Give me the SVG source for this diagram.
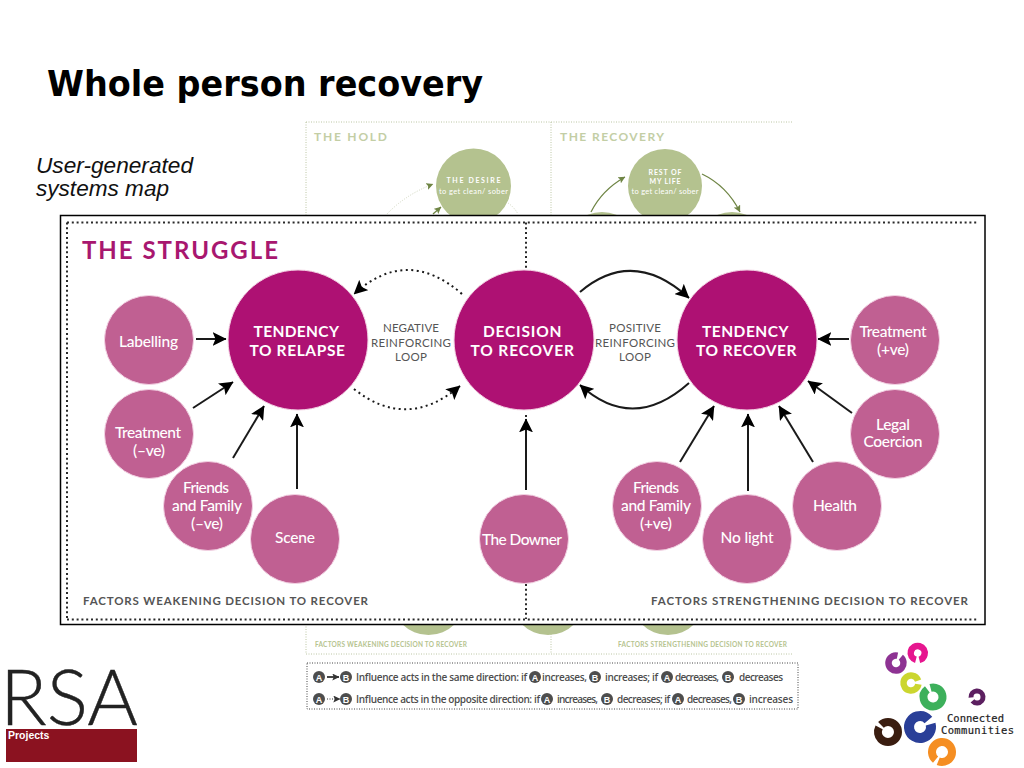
<svg xmlns="http://www.w3.org/2000/svg" width="1024" height="768" viewBox="0 0 1024 768">
<style>
text{font-family:"Lato","Liberation Sans",sans-serif}
.big{fill:#ae1173;stroke:#f3d3e4;stroke-width:1}
.small{fill:#c06092;stroke:#f3d3e4;stroke-width:1}
.green{fill:#b4c28f}
.bt{fill:#fff;font-weight:700;font-size:15.5px;text-anchor:middle;letter-spacing:1.5px}
.st{fill:#fff;font-size:15.5px;text-anchor:middle;font-weight:500}
.lt{fill:#555;font-size:11.5px;text-anchor:middle}
.ft{fill:#555;font-size:11.5px;font-weight:700}
.gh{fill:#c3cea5;font-size:12px;font-weight:700}
.gf{fill:#b6c48f;font-size:6.5px;font-weight:700}
.gw{fill:#fff;font-size:7px;font-weight:700;text-anchor:middle}
.gs{fill:#fff;font-size:7.5px;text-anchor:middle}
.lg{fill:#4d4d4d;font-size:10px;font-family:"Open Sans","Noto Sans",sans-serif;font-weight:600}
.lc{fill:#4d4d4d}
.ll{fill:#fff;font-size:9px;font-weight:700;text-anchor:middle;font-family:"Liberation Sans",sans-serif}
.ar{fill:none;stroke:#1a1a1a;stroke-width:2;marker-end:url(#a)}
.dr{fill:none;stroke:#1a1a1a;stroke-width:2;stroke-dasharray:2 3.5;marker-end:url(#a)}
.gar{fill:none;stroke:#6f8545;stroke-width:1.3;marker-end:url(#g)}
.gdr{fill:none;stroke:#cfd6bd;stroke-width:1;stroke-dasharray:1 1.5}
.fd{fill:none;stroke:#2a2a2a;stroke-width:2;stroke-dasharray:2 2.8}
.gd{fill:none;stroke:#bcc6a4;stroke-width:1;stroke-dasharray:1 1.5}
.kd{fill:none;stroke:#444;stroke-width:1;stroke-dasharray:1 1.5}
</style>
<defs>
<marker id="a" viewBox="0 0 12 12" refX="11.5" refY="6" markerWidth="14" markerHeight="14" markerUnits="userSpaceOnUse" orient="auto"><path d="M0,0L12,6L0,12L2.5,6z" fill="#000"/></marker>
<marker id="g" viewBox="0 0 12 12" refX="11.5" refY="6" markerWidth="7" markerHeight="7" markerUnits="userSpaceOnUse" orient="auto"><path d="M0,0L12,6L0,12L2.5,6z" fill="#6f8545"/></marker>
<marker id="k" viewBox="0 0 12 12" refX="11.5" refY="6" markerWidth="7" markerHeight="7" markerUnits="userSpaceOnUse" orient="auto"><path d="M0,0L12,6L0,12L2.5,6z" fill="#333"/></marker>
</defs>
<rect width="1024" height="768" fill="#fff"/>
<text id="title" x="47" y="96" font-size="36" font-weight="700" fill="#000" style="font-family:'DejaVu Sans',sans-serif" textLength="436" lengthAdjust="spacingAndGlyphs">Whole person recovery</text>
<g id="subtitle" font-size="22" font-style="italic" fill="#111">
<text x="36" y="173" style="font-family:'Liberation Sans',sans-serif" textLength="157" lengthAdjust="spacingAndGlyphs">User-generated</text>
<text x="36" y="196" style="font-family:'Liberation Sans',sans-serif" textLength="133" lengthAdjust="spacingAndGlyphs">systems map</text>
</g>
<g id="behind">
<path class="gd" d="M306,122H792M306,122V216M551,122V216M306,624V654M551,624V654M306,654H792"/>
<text class="gh" x="314" y="141" textLength="73">THE HOLD</text>
<text class="gh" x="560" y="141" textLength="104">THE RECOVERY</text>
<circle class="green" cx="602" cy="249" r="37"/>
<circle class="green" cx="732" cy="249" r="37"/>
<circle class="green" cx="428.500" cy="598" r="37"/>
<circle class="green" cx="548" cy="598" r="37"/>
<circle class="green" cx="668" cy="598" r="37"/>
<text class="gf" x="315" y="647" textLength="152">FACTORS WEAKENING DECISION TO RECOVER</text>
<text class="gf" x="618" y="647" textLength="169">FACTORS STRENGTHENING DECISION TO RECOVER</text>
</g>
<g id="the-desire">
<circle class="green" cx="473.500" cy="186" r="37.500"/>
<text class="gw" x="473.500" y="183" textLength="54">THE DESIRE</text>
<text class="gs" x="473.500" y="194" textLength="69">to get clean/ sober</text>
</g>
<g id="rest-of-my-life">
<circle class="green" cx="665" cy="186" r="37"/>
<text class="gw" x="665" y="175" textLength="33">REST OF</text>
<text class="gw" x="665" y="184" textLength="31">MY LIFE</text>
<text class="gs" x="665" y="194" textLength="67">to get clean/ sober</text>
</g>
<g id="behind-connectors">
<path class="gdr" d="M387,214Q405,195 433,184" marker-end="url(#g)"/>
<path class="gar" d="M433,214L441,207"/>
<path class="gdr" d="M508,203Q514,207 518,214"/>
<path class="gar" d="M591,212Q602,190 625,177"/>
<path class="gar" d="M702,174Q727,186 740,212"/>
</g>
<g id="legend">
<rect class="kd" x="307" y="663" width="491" height="46"/>
<path d="M327,677H339" fill="none" stroke="#333" stroke-width="1.800" marker-end="url(#k)"/>
<path d="M327,699H340" fill="none" stroke="#333" stroke-width="1.200" stroke-dasharray="1 1.500" marker-end="url(#k)"/>
<g id="legend-row-1">
<circle class="lc" cx="319" cy="677" r="6"/><text class="ll" x="319" y="680.500">A</text>
<circle class="lc" cx="346" cy="677" r="6"/><text class="ll" x="346" y="680.500">B</text>
<text class="lg" x="356" y="680.500" textLength="171">Influence acts in the same direction: if</text>
<circle class="lc" cx="535" cy="677" r="6"/><text class="ll" x="535" y="680.500">A</text>
<text class="lg" x="542" y="680.500" textLength="45">increases,</text>
<circle class="lc" cx="595" cy="677" r="6"/><text class="ll" x="595" y="680.500">B</text>
<text class="lg" x="605" y="680.500" textLength="53">increases; if</text>
<circle class="lc" cx="667" cy="677" r="6"/><text class="ll" x="667" y="680.500">A</text>
<text class="lg" x="675" y="680.500" textLength="44">decreases,</text>
<circle class="lc" cx="728" cy="677" r="6"/><text class="ll" x="728" y="680.500">B</text>
<text class="lg" x="739" y="680.500" textLength="44">decreases</text>
</g>
<g id="legend-row-2">
<circle class="lc" cx="319" cy="699" r="6"/><text class="ll" x="319" y="702.500">A</text>
<circle class="lc" cx="346" cy="699" r="6"/><text class="ll" x="346" y="702.500">B</text>
<text class="lg" x="356" y="702.500" textLength="184">Influence acts in the opposite direction: if</text>
<circle class="lc" cx="547" cy="699" r="6"/><text class="ll" x="547" y="702.500">A</text>
<text class="lg" x="557" y="702.500" textLength="41">increases,</text>
<circle class="lc" cx="607" cy="699" r="6"/><text class="ll" x="607" y="702.500">B</text>
<text class="lg" x="617" y="702.500" textLength="53">decreases; if</text>
<circle class="lc" cx="678" cy="699" r="6"/><text class="ll" x="678" y="702.500">A</text>
<text class="lg" x="687" y="702.500" textLength="45">decreases,</text>
<circle class="lc" cx="739" cy="699" r="6"/><text class="ll" x="739" y="702.500">B</text>
<text class="lg" x="749" y="702.500" textLength="44">increases</text>
</g>
</g>
<g id="struggle-frame">
<rect x="60.500" y="215.500" width="924.500" height="409" fill="#fff" stroke="#000" stroke-width="1.500"/>
<path class="fd" d="M67,222.500H979M67,222.500V619M67,619.500H979M526,222.500V270M526,415V488M526,584V619"/>
</g>
<text id="struggle-title" x="82" y="259" font-size="24" font-weight="700" fill="#a8176f" textLength="196">THE STRUGGLE</text>
<g id="connectors">
<path class="ar" d="M196,339H226"/>
<path class="ar" d="M193,408L233,382"/>
<path class="ar" d="M233,458L264,406"/>
<path class="ar" d="M297,489V414"/>
<path class="ar" d="M526,490V419"/>
<path class="ar" d="M849,339H818"/>
<path class="ar" d="M852,413L808,381"/>
<path class="ar" d="M813,462L779,406"/>
<path class="ar" d="M748,491V414"/>
<path class="ar" d="M680,462L714,406"/>
<path class="ar" d="M580,292Q633,247 689,298"/>
<path class="ar" d="M689,383Q633,433 580,385"/>
<path class="dr" d="M462,294Q407,246 354,294"/>
<path class="dr" d="M354,389Q407,431 460,386"/>
</g>
<g id="tendency-to-relapse"><circle class="big" cx="298" cy="340" r="70"/>
<text class="bt" x="297" y="337" textLength="87">TENDENCY</text>
<text class="bt" x="298" y="356" textLength="97">TO RELAPSE</text></g>
<g id="decision-to-recover"><circle class="big" cx="524" cy="340" r="70"/>
<text class="bt" x="523" y="337" textLength="80">DECISION</text>
<text class="bt" x="523" y="356" textLength="105">TO RECOVER</text></g>
<g id="tendency-to-recover"><circle class="big" cx="747" cy="340" r="70"/>
<text class="bt" x="746" y="337" textLength="88">TENDENCY</text>
<text class="bt" x="747" y="356" textLength="102">TO RECOVER</text></g>
<g id="negative-loop-label">
<text class="lt" x="411" y="332" textLength="56">NEGATIVE</text>
<text class="lt" x="411" y="347" textLength="80">REINFORCING</text>
<text class="lt" x="411" y="361" textLength="32">LOOP</text></g>
<g id="positive-loop-label">
<text class="lt" x="635" y="332" textLength="52">POSITIVE</text>
<text class="lt" x="635" y="347" textLength="80">REINFORCING</text>
<text class="lt" x="635" y="361" textLength="32">LOOP</text></g>
<g id="labelling"><circle class="small" cx="149" cy="340" r="44.500"/>
<text class="st" x="148.500" y="347" textLength="59">Labelling</text></g>
<g id="treatment-neg"><circle class="small" cx="149" cy="434" r="44.500"/>
<text class="st" x="148" y="438" textLength="66">Treatment</text>
<text class="st" x="149" y="456" textLength="32">(–ve)</text></g>
<g id="friends-family-neg"><circle class="small" cx="208" cy="506" r="44.500"/>
<text class="st" x="206" y="493" textLength="46">Friends</text>
<text class="st" x="207" y="511" textLength="70">and Family</text>
<text class="st" x="207" y="529" textLength="32">(–ve)</text></g>
<g id="scene"><circle class="small" cx="295" cy="539" r="44.500"/>
<text class="st" x="295" y="543" textLength="40">Scene</text></g>
<g id="the-downer"><circle class="small" cx="524" cy="539" r="44.500"/>
<text class="st" x="522" y="545" textLength="80">The Downer</text></g>
<g id="friends-family-pos"><circle class="small" cx="657" cy="506" r="44.500"/>
<text class="st" x="656" y="493" textLength="46">Friends</text>
<text class="st" x="656" y="511" textLength="70">and Family</text>
<text class="st" x="656" y="529" textLength="32">(+ve)</text></g>
<g id="no-light"><circle class="small" cx="747" cy="539" r="44.500"/>
<text class="st" x="747" y="543" textLength="53">No light</text></g>
<g id="health"><circle class="small" cx="837" cy="506" r="44.500"/>
<text class="st" x="835" y="511" textLength="44">Health</text></g>
<g id="legal-coercion"><circle class="small" cx="895" cy="434" r="44.500"/>
<text class="st" x="893" y="430" textLength="34">Legal</text>
<text class="st" x="893" y="447" textLength="59">Coercion</text></g>
<g id="treatment-pos"><circle class="small" cx="895" cy="340" r="44.500"/>
<text class="st" x="893" y="337" textLength="67">Treatment</text>
<text class="st" x="893" y="355" textLength="32">(+ve)</text></g>
<text class="ft" x="83" y="605" textLength="285">FACTORS WEAKENING DECISION TO RECOVER</text>
<text class="ft" x="651" y="605" textLength="317">FACTORS STRENGTHENING DECISION TO RECOVER</text>
<g id="rsa-logo">
<text x="0" y="725" font-size="77" font-weight="300" fill="#222" stroke="#222" stroke-width=".4" textLength="138" lengthAdjust="spacingAndGlyphs">RSA</text>
<rect x="6" y="729" width="131" height="33" fill="#8b1220"/>
<text x="8" y="739" font-size="10.500" font-weight="700" fill="#fff" style="font-family:'Liberation Sans',sans-serif">Projects</text>
</g>
<g id="connected-communities-logo" fill="none">
<circle cx="917.700" cy="653" r="7" stroke="#e6168f" stroke-width="6.500" pathLength="100" stroke-dasharray="92 8" transform="rotate(105 917.700 653)"/>
<circle cx="896" cy="663" r="7.500" stroke="#8e3393" stroke-width="6.500" pathLength="100" stroke-dasharray="92 8" transform="rotate(-50 896 663)"/>
<circle cx="911" cy="683" r="7.500" stroke="#cbd62f" stroke-width="6.500" pathLength="100" stroke-dasharray="92 8" transform="rotate(10 911 683)"/>
<circle cx="933" cy="697" r="9.500" stroke="#3db05b" stroke-width="8" pathLength="100" stroke-dasharray="94 6" transform="rotate(-105 933 697)"/>
<circle cx="977" cy="697" r="6" stroke="#5c1f60" stroke-width="5" pathLength="100" stroke-dasharray="90 10" transform="rotate(175 977 697)"/>
<circle cx="920" cy="727" r="11" stroke="#2a3f98" stroke-width="10" pathLength="100" stroke-dasharray="93 7" transform="rotate(-15 920 727)"/>
<circle cx="888" cy="732" r="10" stroke="#3a1d10" stroke-width="8" pathLength="100" stroke-dasharray="95 5" transform="rotate(-135 888 732)"/>
<circle cx="942" cy="752" r="10" stroke="#f58e22" stroke-width="8" pathLength="100" stroke-dasharray="95 5" transform="rotate(130 942 752)"/>
<text x="947" y="722" font-size="10.500" fill="#222" stroke="#222" stroke-width=".2" style="font-family:'DejaVu Sans Mono',monospace" textLength="57">Connected</text>
<text x="941" y="734" font-size="10.500" fill="#222" stroke="#222" stroke-width=".2" style="font-family:'DejaVu Sans Mono',monospace" textLength="73">Communities</text>
</g>
</svg>
